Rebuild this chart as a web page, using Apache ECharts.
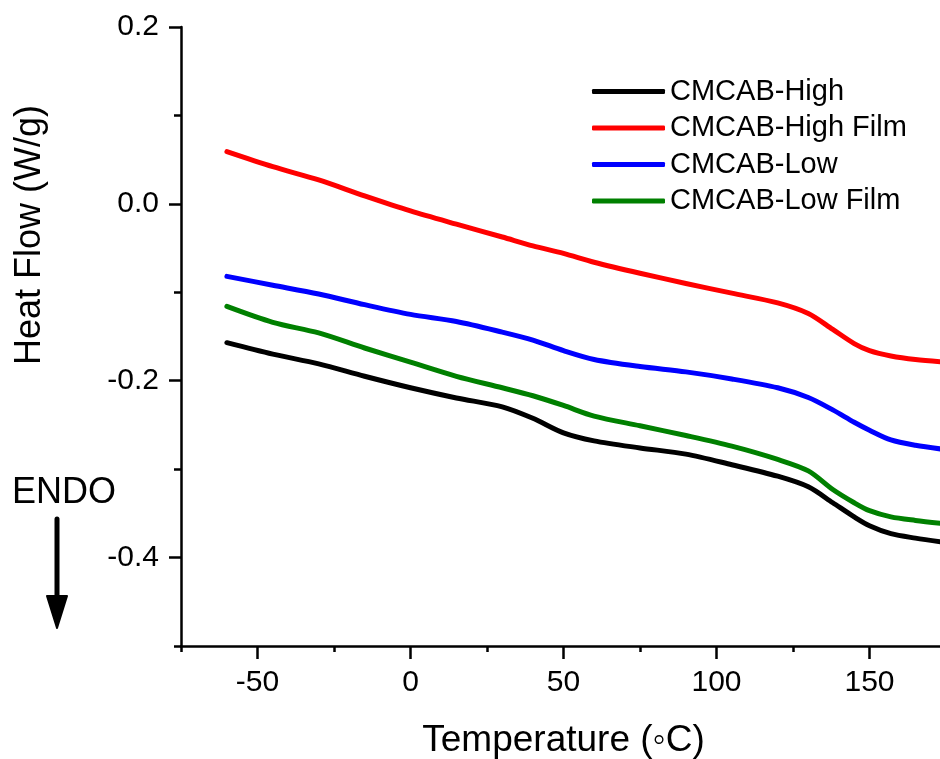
<!DOCTYPE html>
<html>
<head>
<meta charset="utf-8">
<script src="https://cdn.jsdelivr.net/npm/echarts@6/dist/echarts.min.js"></script>
<style>
  html, body { margin: 0; padding: 0; background: #fff; }
  #chart { width: 940px; height: 759px; }
</style>
</head>
<body>
<div id="chart"></div>
<script>
// Temperature sample points (°C) shared by all DSC traces
const temperature = [-60, -45, -30, -15, 0, 15, 30, 40, 50, 60, 75, 90, 105, 120, 130, 138, 145, 150, 157, 165, 175];

// Heat flow (W/g) for each sample
const cmcabHigh     = [-0.157, -0.170, -0.181, -0.195, -0.208, -0.2195, -0.2295, -0.2425, -0.259, -0.268, -0.276, -0.283, -0.295, -0.308, -0.320, -0.338, -0.354, -0.364, -0.373, -0.378, -0.383];
const cmcabHighFilm = [0.059, 0.042, 0.027, 0.009, -0.008, -0.023, -0.0375, -0.0475, -0.056, -0.066, -0.0785, -0.090, -0.101, -0.112, -0.124, -0.142, -0.158, -0.166, -0.172, -0.176, -0.179];
const cmcabLow      = [-0.082, -0.092, -0.102, -0.114, -0.125, -0.133, -0.145, -0.154, -0.166, -0.176, -0.184, -0.190, -0.198, -0.208, -0.219, -0.233, -0.247, -0.256, -0.267, -0.273, -0.278];
const cmcabLowFilm  = [-0.116, -0.134, -0.146, -0.163, -0.179, -0.195, -0.208, -0.217, -0.228, -0.240, -0.251, -0.262, -0.274, -0.289, -0.302, -0.323, -0.338, -0.347, -0.354, -0.358, -0.362];

const seriesNames  = ['CMCAB-High', 'CMCAB-High Film', 'CMCAB-Low', 'CMCAB-Low Film'];
const seriesColors = ['#000000', '#ff0000', '#0000ff', '#008000'];
const seriesValues = [cmcabHigh, cmcabHighFilm, cmcabLow, cmcabLowFilm];

// Tick positions
const xMajorTicks = [-50, 0, 50, 100, 150];
const xMinorTicks = [-75, -25, 25, 75, 125, 175];
const yMajorTicks = [-0.4, -0.2, 0, 0.2];
const yMinorTicks = [-0.5, -0.3, -0.1, 0.1];

const FONT = 'Liberation Sans, Arial, sans-serif';

const chart = echarts.init(document.getElementById('chart'), null, { renderer: 'canvas' });

const axisLineStyle = { color: '#000', width: 2.5 };
const tickStyle = { color: '#000', width: 2.5 };

chart.setOption({
  animation: false,
  backgroundColor: '#fff',
  grid: { left: 181, top: 27, bottom: 113, right: -6, containLabel: false, outerBoundsMode: 'none' },
  legend: {
    orient: 'vertical',
    left: 587,
    top: 72,
    itemWidth: 73,
    itemHeight: 5,
    itemGap: 7.5,
    icon: 'roundRect',
    textStyle: { fontFamily: FONT, fontSize: 29, color: '#000', lineHeight: 29 },
    data: seriesNames
  },
  xAxis: [
    {
      type: 'value', min: -75, max: 175,
      position: 'bottom',
      name: 'Temperature (\u25E6C)',
      nameLocation: 'middle',
      nameGap: 76,
      nameTextStyle: { fontFamily: FONT, fontSize: 37, color: '#000' },
      splitLine: { show: false },
      axisLine: { show: true, onZero: false, lineStyle: axisLineStyle },
      axisTick: { show: true, customValues: xMajorTicks, length: 13, lineStyle: tickStyle },
      axisLabel: { customValues: xMajorTicks, fontFamily: FONT, fontSize: 30, color: '#000', margin: 22 }
    },
    {
      type: 'value', min: -75, max: 175,
      position: 'bottom',
      splitLine: { show: false },
      axisLine: { show: false, onZero: false },
      axisTick: { show: true, customValues: xMinorTicks, length: 6, lineStyle: tickStyle },
      axisLabel: { show: false }
    }
  ],
  yAxis: [
    {
      type: 'value', min: -0.5, max: 0.2,
      position: 'left',
      splitLine: { show: false },
      axisLine: { show: true, onZero: false, lineStyle: axisLineStyle },
      axisTick: { show: true, customValues: yMajorTicks, length: 12, lineStyle: tickStyle },
      axisLabel: {
        customValues: yMajorTicks,
        fontFamily: FONT, fontSize: 30, color: '#000', margin: 22,
        formatter: v => v.toFixed(1)
      }
    },
    {
      type: 'value', min: -0.5, max: 0.2,
      position: 'left',
      splitLine: { show: false },
      axisLine: { show: false, onZero: false },
      axisTick: { show: true, customValues: yMinorTicks, length: 7, lineStyle: tickStyle },
      axisLabel: { show: false }
    }
  ],
  series: seriesNames.map((name, i) => ({
    name,
    type: 'line',
    xAxisIndex: 0,
    yAxisIndex: 0,
    smooth: 0.3,
    showSymbol: false,
    symbol: 'none',
    color: seriesColors[i],
    lineStyle: { color: seriesColors[i], width: 5, cap: 'round', join: 'round' },
    data: temperature.map((t, k) => [t, seriesValues[i][k]])
  })),
  graphic: [
    {
      // vertical axis title
      type: 'text', x: 30, y: 235, rotation: Math.PI / 2,
      style: { text: 'Heat Flow (W/g)', fontFamily: FONT, fontSize: 36, fill: '#000', align: 'center', verticalAlign: 'middle' }
    },
    {
      type: 'text', left: 12, top: 475,
      style: { text: 'ENDO', fontFamily: FONT, fontSize: 36, fill: '#000' }
    },
    {
      type: 'line',
      shape: { x1: 57, y1: 519, x2: 57, y2: 600 },
      style: { stroke: '#000', lineWidth: 5, lineCap: 'round' }
    },
    {
      type: 'polygon',
      shape: { points: [[47, 596], [67, 596], [57, 628]] },
      style: { fill: '#000', stroke: '#000', lineWidth: 2, lineJoin: 'round' }
    }
  ]
});
</script>
</body>
</html>
